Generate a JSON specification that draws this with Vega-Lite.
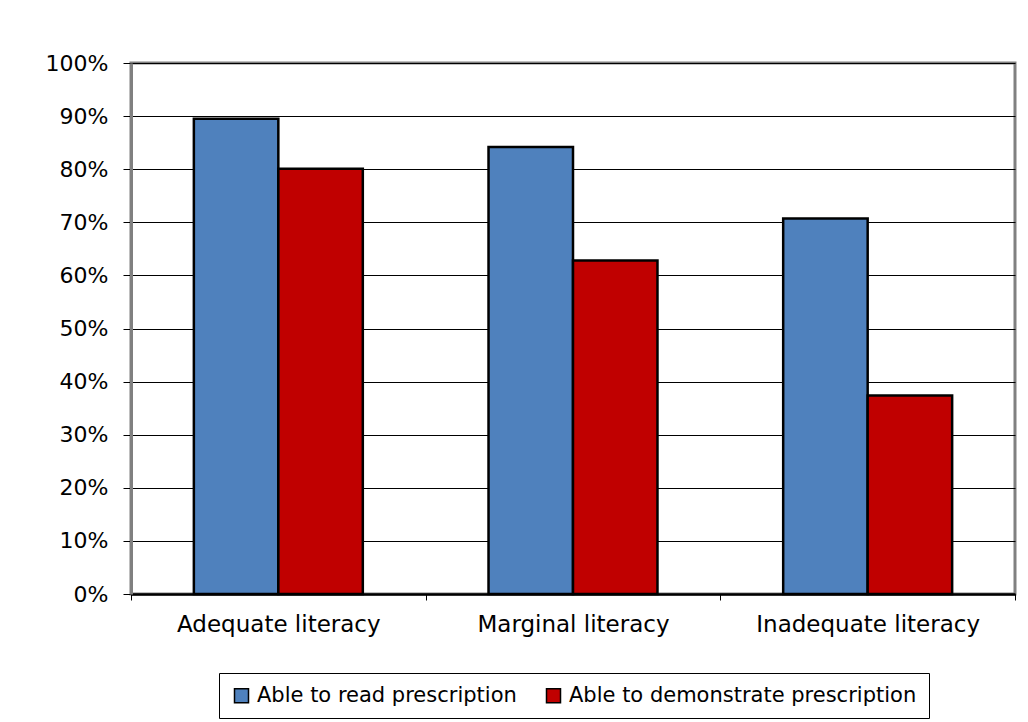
{
  "$schema": "https://vega.github.io/schema/vega-lite/v6.json",
  "width": 884,
  "height": 531,
  "autosize": "none",
  "padding": {"left": 131, "top": 63, "right": 13, "bottom": 128},
  "background": "white",
  "config": {
    "font": "DejaVu Sans",
    "view": {"stroke": "#808080", "strokeWidth": 3}
  },
  "data": {
    "values": [
      {"level": "Adequate literacy", "measure": "Able to read prescription", "value": 0.895},
      {"level": "Adequate literacy", "measure": "Able to demonstrate prescription", "value": 0.801},
      {"level": "Marginal literacy", "measure": "Able to read prescription", "value": 0.842},
      {"level": "Marginal literacy", "measure": "Able to demonstrate prescription", "value": 0.628},
      {"level": "Inadequate literacy", "measure": "Able to read prescription", "value": 0.707},
      {"level": "Inadequate literacy", "measure": "Able to demonstrate prescription", "value": 0.374}
    ]
  },
  "mark": {"type": "bar", "stroke": "black", "strokeWidth": 2.5},
  "encoding": {
    "x": {
      "field": "level",
      "type": "nominal",
      "sort": ["Adequate literacy", "Marginal literacy", "Inadequate literacy"],
      "scale": {"paddingInner": 0, "paddingOuter": 0},
      "axis": {
        "title": null,
        "labelAngle": 0,
        "labelFontSize": 23,
        "labelColor": "black",
        "labelPadding": 13,
        "labelLimit": 400,
        "tickBand": "extent",
        "tickColor": "black",
        "tickSize": 6,
        "domainColor": "black",
        "domainWidth": 2.5
      }
    },
    "xOffset": {
      "field": "measure",
      "sort": ["Able to read prescription", "Able to demonstrate prescription"],
      "scale": {"paddingOuter": 0.744, "paddingInner": 0}
    },
    "y": {
      "field": "value",
      "type": "quantitative",
      "scale": {"domain": [0, 1]},
      "axis": {
        "title": null,
        "format": "%",
        "values": [0, 0.1, 0.2, 0.3, 0.4, 0.5, 0.6, 0.7, 0.8, 0.9, 1],
        "grid": true,
        "gridColor": "black",
        "gridWidth": 1,
        "gridOpacity": 1,
        "domainColor": "#808080",
        "domainWidth": 3,
        "tickColor": "black",
        "tickSize": 8,
        "labelFontSize": 22,
        "labelColor": "black",
        "labelPadding": 15
      }
    },
    "color": {
      "field": "measure",
      "type": "nominal",
      "scale": {
        "domain": ["Able to read prescription", "Able to demonstrate prescription"],
        "range": ["#4F81BD", "#C00000"]
      },
      "legend": {
        "orient": "none",
        "legendX": 88,
        "legendY": 610,
        "direction": "horizontal",
        "title": null,
        "symbolType": "square",
        "symbolSize": 196,
        "symbolStrokeColor": "black",
        "symbolStrokeWidth": 1.5,
        "symbolOpacity": 1,
        "labelFontSize": 21,
        "labelColor": "black",
        "labelOffset": 5,
        "labelLimit": 500,
        "columnPadding": 26,
        "padding": 12,
        "strokeColor": "black",
        "fillColor": "white"
      }
    }
  }
}
